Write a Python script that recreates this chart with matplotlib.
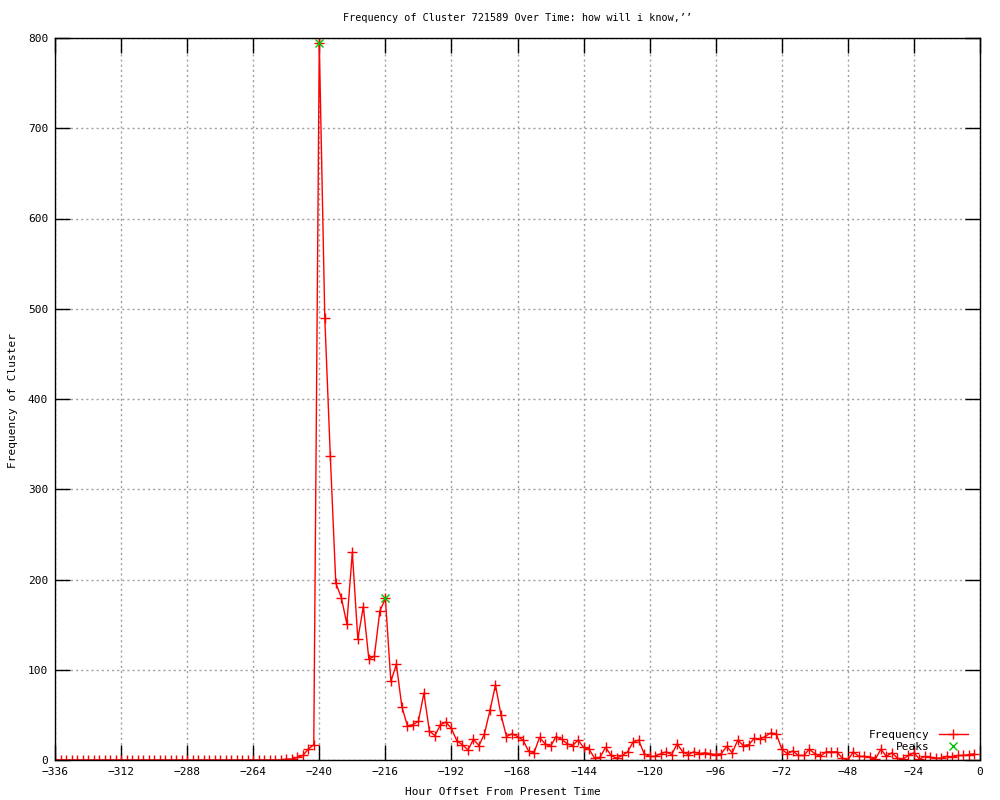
import matplotlib
matplotlib.use('Agg')
import matplotlib.pyplot as plt
import numpy as np

# hour offsets, one point every 2 hours
hours = np.arange(-336, 0, 2)

freq = [0, 0, 0, 0, 0, 0, 0, 0, 0, 0, 0, 0, 0, 0, 0, 0, 0, 0, 0, 0, 0,
        0, 0, 0, 0, 0, 0, 0, 0, 0, 0, 0, 0, 0, 0, 0, 0, 0, 0, 0, 0, 0,
        1, 1, 3, 5, 12, 17,
        795, 490, 337, 196, 180, 151, 230, 134, 170, 112, 115, 165, 179,
        87, 106, 59, 38, 39, 43, 74, 32, 27, 39, 42, 35, 21, 17, 11, 23,
        16, 29, 55, 83, 50, 26, 29, 26, 22, 10, 8, 25, 18, 15, 26, 23,
        18, 16, 22, 14, 12, 2, 3, 14, 5, 2, 5, 9, 20, 22, 7, 4, 4, 7, 9,
        6, 18, 9, 6, 9, 7, 8, 7, 6, 7, 15, 8, 22, 16, 17, 24, 23, 26, 30,
        29, 12, 7, 10, 5, 5, 12, 7, 4, 9, 9, 9, 2, 0, 9, 4, 4, 3, 1, 12,
        4, 8, 2, 1, 5, 8, 1, 4, 3, 2, 2, 4, 3, 5, 5, 6, 7]

peak_hours = [-240, -216]
peak_vals = [795, 179]

xticks = list(range(-336, 1, 24))
yticks = list(range(0, 801, 100))

mono = 'DejaVu Sans Mono'

fig = plt.figure(figsize=(10, 8), dpi=100)
ax = fig.add_axes([0.055, 0.05, 0.925, 0.9025])

ax.plot(hours, freq, color='#ff0000', lw=1, marker='+', ms=7, mew=1,
        label='Frequency')
ax.plot(peak_hours, peak_vals, ls='none', color='#00c000', marker='x',
        ms=6, mew=1, label='Peaks')

ax.set_xlim(-336, 0)
ax.set_ylim(0, 800)
ax.set_xticks(xticks)
ax.set_yticks(yticks)
ax.set_xticklabels([str(t).replace('-', '\u2212') if t else '0' for t in xticks],
                   fontfamily=mono, fontsize=8)
ax.set_yticklabels([str(t) for t in yticks], fontfamily=mono, fontsize=8)
ax.tick_params(direction='in', length=11, width=1, top=True, right=True,
               pad=5)
ax.grid(True, color='#a0a0a0', ls=(0, (1.5, 2.2)), lw=1)
for s in ax.spines.values():
    s.set_linewidth(1)

leg = ax.legend(loc='lower right', bbox_to_anchor=(0.995, 0.0),
                markerfirst=False, frameon=False,
                prop={'family': mono, 'size': 8}, handlelength=2.6,
                labelspacing=0.2, borderaxespad=0.3)

fig.text(0.5175, 1 - 18 / 800, "Frequency of Cluster 721589 Over Time: how will i know,\u2019\u2019",
         ha='center', va='center', fontfamily=mono, fontsize=7.3)
fig.text(0.503, 1 - 792 / 800, 'Hour Offset From Present Time', ha='center',
         va='center', fontfamily=mono, fontsize=8)
fig.text(0.013, 0.5, 'Frequency of Cluster', ha='center', va='center',
         rotation=90, fontfamily=mono, fontsize=8)

fig.savefig('out.png', dpi=100)
